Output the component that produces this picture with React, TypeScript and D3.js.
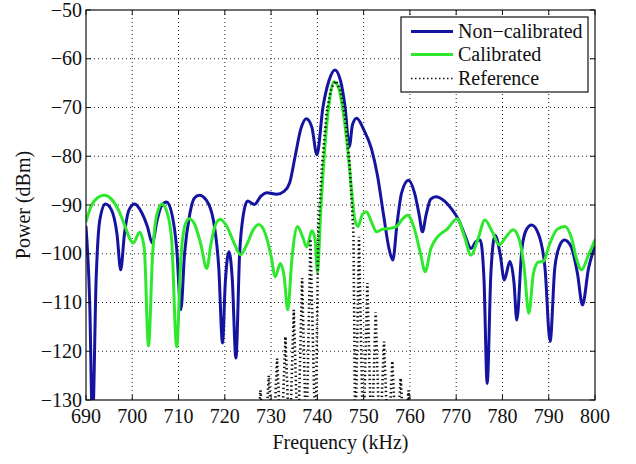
import React from "react";
import * as d3 from "d3";

const xTicks = [690, 700, 710, 720, 730, 740, 750, 760, 770, 780, 790, 800];
const yTicks = [-50, -60, -70, -80, -90, -100, -110, -120, -130];

const seriesNames = ["Non\u2212calibrated", "Calibrated", "Reference"];

const nonCalFreq = [690, 690.8, 691.4, 692.2, 693, 694.2, 695.5, 696.7, 697.5, 698.3, 699.3, 700.5, 702, 703.3, 704.3, 705.4, 706.3, 707.4, 708.6, 709.6, 710.5, 711.3, 712.4, 713.4, 714.5, 716, 717.5, 718.7, 719.5, 720.1, 720.9, 721.6, 722.4, 723.2, 724, 724.9, 726.4, 727.8, 729.1, 731.2, 732.8, 734, 735.2, 736.4, 737.6, 738.8, 739.9, 741.2, 742.5, 743.8, 745, 746, 746.9, 747.6, 748.5, 750, 751.7, 753, 754.3, 755.5, 756.3, 757.2, 758.2, 759.7, 761, 762, 762.7, 763.5, 764.5, 765.6, 767.5, 769, 770.5, 772, 773.2, 774.3, 775.2, 776, 776.7, 777.5, 778.4, 779.5, 780.4, 781.6, 782.5, 783.1, 784.2, 785.2, 786.3, 787.8, 789.2, 790.3, 791.3, 792.3, 793.4, 794.8, 796.2, 797.3, 798.6, 800];
const nonCalPower = [-94.5, -110, -135, -105, -93, -89.8, -91, -96, -103.3, -96, -91, -89.8, -91.5, -94.5, -97.8, -93, -90.2, -89.4, -92, -99, -111.5, -100, -92, -88.6, -88.0, -89, -93, -103, -118.3, -106, -99.6, -105, -121.4, -100, -92, -89.2, -89.9, -88.2, -87.5, -87.8, -87.2, -85.5, -80, -74.5, -72.3, -74, -79.7, -70, -64.5, -62.3, -64.5, -70, -78, -73.5, -72.2, -74.5, -78.5, -84, -92, -99, -101.3, -94, -87.5, -84.9, -87.5, -92, -95.5, -92, -88.8, -88.3, -89.2, -90.8, -93, -96.5, -98.9, -97.5, -97.2, -105, -126.6, -104, -96.2, -100, -105.4, -101.6, -106, -113.6, -99, -95, -94.1, -96, -103, -118, -103, -98.5, -97.2, -98.5, -104, -110.5, -103, -98.5];

const calFreq = [690, 691, 692.5, 693.9, 695.5, 697, 698.5, 699.5, 700.2, 701.6, 702.6, 703.5, 704.4, 705.3, 706.4, 707.5, 708.5, 709.6, 710.5, 711.3, 712.3, 713.5, 714.8, 716.1, 717, 718, 719, 720.5, 722, 723.4, 724.8, 726.2, 727.3, 728.8, 730, 730.9, 732, 732.8, 733.6, 734.5, 735.7, 736.8, 737.7, 738.8, 739.5, 740, 740.8, 741.8, 742.7, 743.6, 744.6, 745.6, 746.6, 747.4, 748.1, 748.8, 749.7, 750.6, 751.7, 752.8, 754, 755.5, 757, 758.3, 759.5, 761, 762.3, 763.3, 764.5, 766, 768, 770.2, 771.8, 773.2, 774.7, 776.2, 777.8, 779.3, 780.8, 782.3, 783.6, 784.7, 785.7, 786.7, 787.8, 788.8, 790.2, 791.8, 793.5, 795, 796, 797.1, 798.5, 800];
const calPower = [-93.4, -90.5, -88.5, -88.0, -88.8, -91, -94.5, -97, -97.8, -95.6, -99, -118.9, -100, -92, -89.8, -91.5, -97, -119.1, -101, -94.5, -92.8, -94, -98, -103, -98, -94, -92.9, -94.5, -97.8, -100.2, -98, -95, -94, -96, -100.5, -104.7, -102, -104.5, -111.5, -101, -94.4, -96.5, -98.6, -95.3, -97, -103.7, -90, -76, -68, -64.7, -66, -71, -79, -87, -93, -94.4, -92, -91.4, -93.5, -95.5, -95, -94.8, -94.5, -93, -92.1, -95, -100, -103.7, -99, -96.5, -95, -92.8, -96.5, -100.3, -97, -93.1, -95.5, -98.2, -96.5, -95.1, -97, -103, -112.2, -104, -101.7, -101.6, -98, -95, -94.4, -97, -101, -103.3, -100.5, -97.2];

const refFreq = [726.8, 727.7, 728.6, 729.5, 730.4, 731.3, 732.2, 733.1, 734.0, 734.9, 735.8, 736.7, 737.6, 738.5, 739.6, 740.2, 741, 742, 743, 744, 745, 746, 747, 747.8, 748.2, 749.0, 749.9, 750.8, 751.7, 752.6, 753.5, 754.4, 755.3, 756.2, 757.1, 758.0, 758.9, 759.7, 760.5];
const refPower = [-140, -128, -140, -125, -140, -121.5, -140, -117, -140, -111.5, -140, -105, -140, -97, -140, -95, -82, -71, -66, -64.5, -66.5, -72, -82, -96, -140, -96.5, -140, -106, -140, -112, -140, -118, -140, -122, -140, -125.5, -140, -128, -140];

const W = 636;
const H = 464;
const L = 86, R = 595, T = 10, B = 400;

export default function App() {
  const x = d3.scaleLinear().domain([690, 800]).range([L, R]);
  const y = d3.scaleLinear().domain([-130, -50]).range([B, T]);
  const smooth = d3.line<[number, number]>().x(d => x(d[0])).y(d => y(d[1])).curve(d3.curveMonotoneX);
  const straight = d3.line<[number, number]>().x(d => x(d[0])).y(d => y(d[1]));
  const blue = smooth(nonCalFreq.map((f, i) => [f, nonCalPower[i]] as [number, number])) || "";
  const green = smooth(calFreq.map((f, i) => [f, calPower[i]] as [number, number])) || "";
  const ref = straight(refFreq.map((f, i) => [f, refPower[i]] as [number, number])) || "";
  const font = "'Liberation Serif', 'Times New Roman', serif";
  const blueC = "#1414a0";
  const greenC = "#2ee82e";
  const lx = 401, ly = 17, lw = 187, lh = 75;
  const legendRows = [31.5, 54.5, 78.5];
  return (
    <svg width={W} height={H} style={{ position: "absolute", left: 0, top: 0, background: "#fff" }} fontFamily={font}>
      <defs>
        <clipPath id="plotclip">
          <rect x={L} y={T} width={R - L} height={B - T} />
        </clipPath>
      </defs>
      <rect x={0} y={0} width={W} height={H} fill="#fff" />
      {xTicks.slice(1, -1).map(t => (
        <line key={"gx" + t} x1={x(t)} x2={x(t)} y1={T} y2={B} stroke="#222" strokeWidth={1} strokeDasharray="1 3" />
      ))}
      {yTicks.slice(1, -1).map(t => (
        <line key={"gy" + t} x1={L} x2={R} y1={y(t)} y2={y(t)} stroke="#222" strokeWidth={1} strokeDasharray="1 3" />
      ))}
      <g clipPath="url(#plotclip)" fill="none" strokeLinejoin="round" strokeLinecap="round">
        <path d={blue} stroke={blueC} strokeWidth={3} />
        <path d={green} stroke={greenC} strokeWidth={3} />
        <path d={ref} stroke="#111" strokeWidth={2.6} strokeDasharray="1.4 2.8" strokeLinecap="butt" strokeLinejoin="miter" />
      </g>
      {xTicks.map(t => (
        <g key={"tx" + t}>
          <line x1={x(t)} x2={x(t)} y1={B} y2={B - 5} stroke="#111" />
          <line x1={x(t)} x2={x(t)} y1={T} y2={T + 5} stroke="#111" />
          <text x={x(t)} y={423} fontSize={20} textAnchor="middle" fill="#111">{t}</text>
        </g>
      ))}
      {yTicks.map(t => (
        <g key={"ty" + t}>
          <line x1={L} x2={L + 5} y1={y(t)} y2={y(t)} stroke="#111" />
          <line x1={R} x2={R - 5} y1={y(t)} y2={y(t)} stroke="#111" />
          <text x={82} y={y(t) + 6.5} fontSize={20} textAnchor="end" fill="#111">{String(t).replace("-", "\u2212")}</text>
        </g>
      ))}
      <rect x={L} y={T} width={R - L} height={B - T} fill="none" stroke="#111" strokeWidth={1.2} />
      <text x={(L + R) / 2} y={449} fontSize={20} textAnchor="middle" fill="#111">Frequency (kHz)</text>
      <text transform={`translate(30,${(T + B) / 2}) rotate(-90)`} fontSize={20} textAnchor="middle" fill="#111">Power (dBm)</text>
      <rect x={lx} y={ly} width={lw} height={lh} fill="#fff" stroke="#111" strokeWidth={1.2} />
      {seriesNames.map((n, i) => (
        <g key={n}>
          <line x1={411} x2={453} y1={legendRows[i]} y2={legendRows[i]}
            stroke={i === 0 ? blueC : i === 1 ? greenC : "#111"}
            strokeWidth={i === 2 ? 1.5 : 3}
            strokeDasharray={i === 2 ? "1.5 2.5" : undefined} />
          <text x={458} y={legendRows[i] + 6.5} fontSize={20} fill="#111">{n}</text>
        </g>
      ))}
    </svg>
  );
}
